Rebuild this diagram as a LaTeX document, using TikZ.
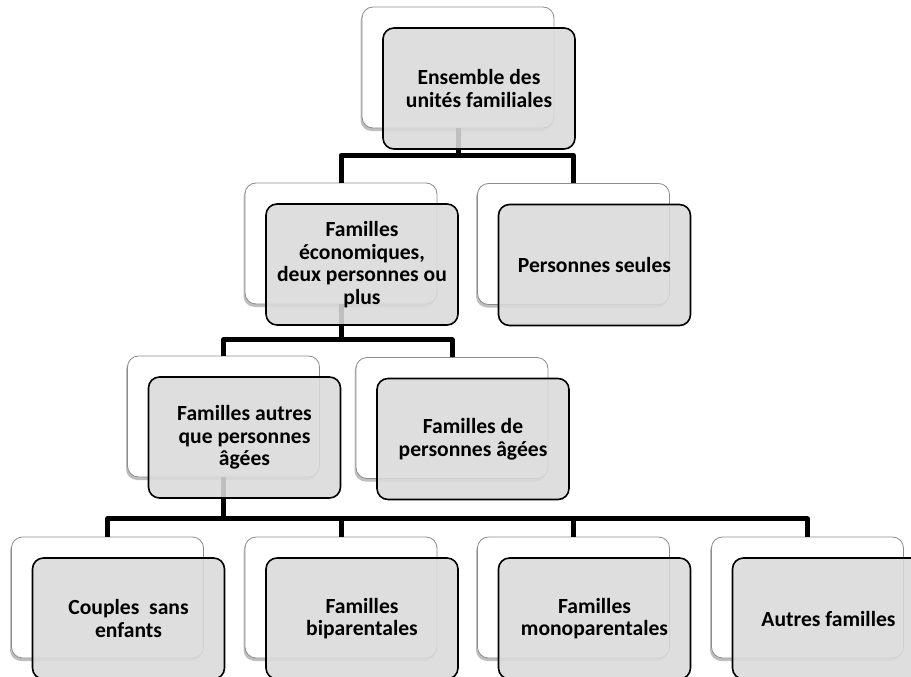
\documentclass[tikz,border=0pt]{standalone}
\usepackage{fontspec}
\setmainfont{Carlito}
\usetikzlibrary{shadows,positioning}

\definecolor{boxgray}{RGB}{218,218,218}
\definecolor{edgegray}{RGB}{140,140,140}

\tikzset{
  back/.style={draw=edgegray, line width=0.8pt, rounded corners=11pt, fill=white,
    minimum width=192pt, minimum height=121pt,
    drop shadow={shadow xshift=-1.5pt, shadow yshift=-3pt, opacity=0.5}},
  front/.style={draw=black, line width=1.6pt, rounded corners=11pt, fill=boxgray,
    fill opacity=0.88, text opacity=1, minimum width=192pt, minimum height=121pt,
    align=center, font=\bfseries\fontsize{21.6}{22.7}\selectfont},
  link/.style={line width=5pt, line join=round}
}

\begin{document}
\begin{tikzpicture}[x=1pt, y=-1pt]
\useasboundingbox (0,0) rectangle (911,677);

\node [back] (b0) at (458,67.5) {};
\node [back] (b1) at (341,243.5) {};
\node [back] (b2) at (573.5,244) {};
\node [back] (b3) at (223.5,416.5) {};
\node [back] (b4) at (452,418) {};
\foreach \i/\x in {5/107.5, 6/341, 7/573.5, 8/807.5} {
    \node [back] (b\i) at (\x,597.5) {};
}

\draw [link] (b0.south) -- ++(0,27) coordinate (j0);
\draw [link] (j0) -| (b1.north);
\draw [link] (j0) -| (b2.north);
\draw [link] (b1.south) -- ++(0,35.5) coordinate (j1);
\draw [link] (j1) -| (b3.north);
\draw [link] (j1) -| (b4.north);
\draw [link] (b3.south) -- ++(0,41.5) coordinate (j3);
\foreach \i in {5, 6, 7, 8} {
    \draw [link] (j3) -| (b\i.north);
}

\node [front] (f0) at ([shift={(21,21)}]b0.center) {Ensemble des\\unités familiales};
\node [front] (f1) at ([shift={(21,21)}]b1.center) {Familles\\économiques,\\deux personnes ou\\plus};
\node [front] (f2) at ([shift={(21,21)}]b2.center) {Personnes seules};
\node [front] (f3) at ([shift={(21,21)}]b3.center) {Familles autres\\que personnes\\âgées};
\node [front] (f4) at ([shift={(21,21)}]b4.center) {Familles de\\personnes âgées};
\node [front] (f5) at ([shift={(21,21)}]b5.center) {Couples~ sans\\enfants};
\node [front] (f6) at ([shift={(21,21)}]b6.center) {Familles\\biparentales};
\node [front] (f7) at ([shift={(21,21)}]b7.center) {Familles\\monoparentales};
\node [front] (f8) at ([shift={(21,21)}]b8.center) {Autres familles};
\end{tikzpicture}
\end{document}
